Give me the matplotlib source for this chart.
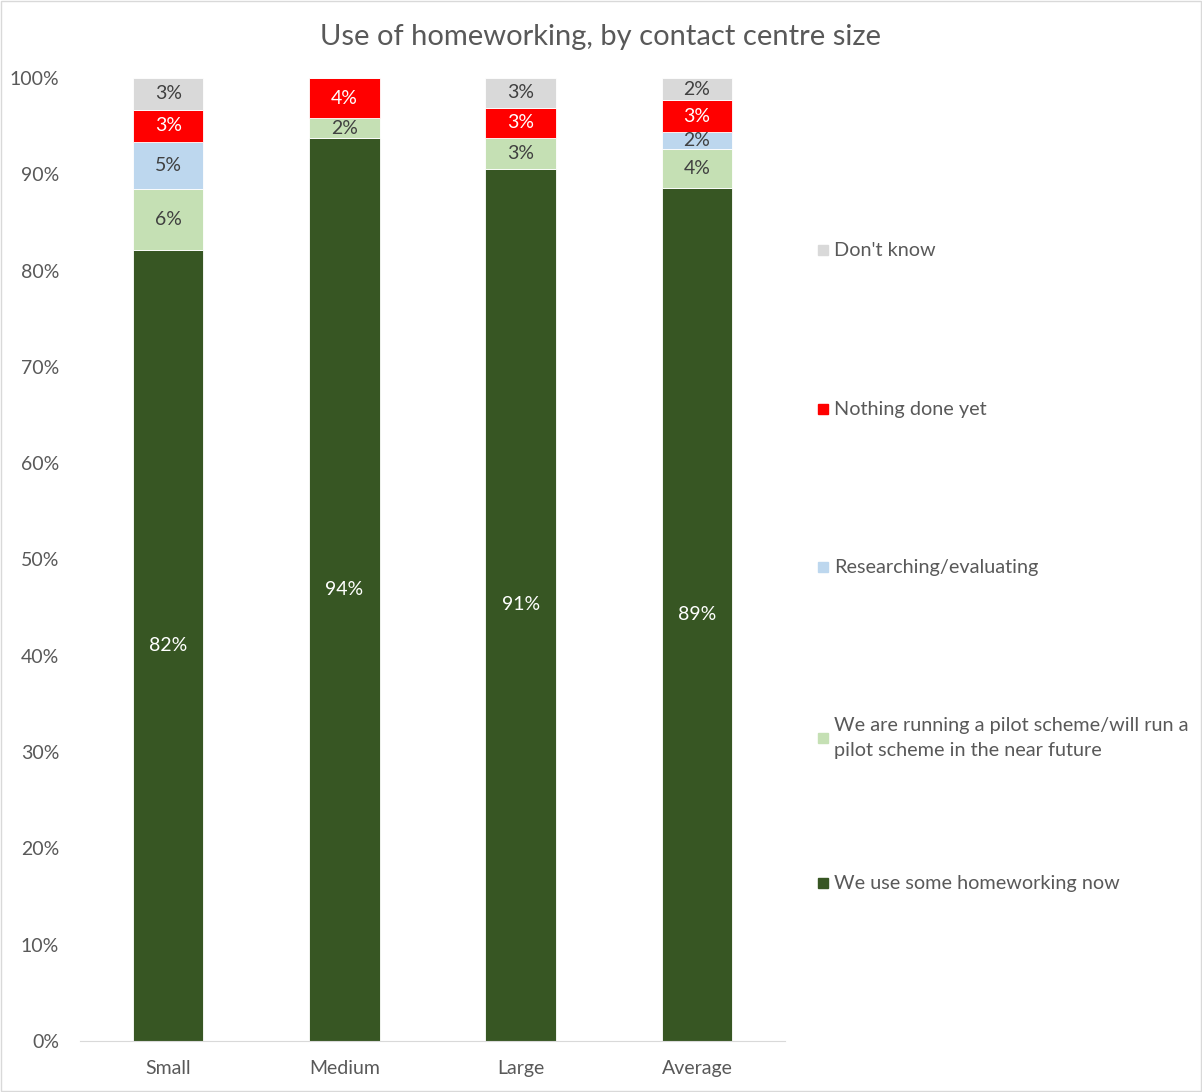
import numpy as np
import matplotlib.pyplot as plt
import matplotlib as mpl
from matplotlib.patches import Rectangle

mpl.rcParams['font.family'] = ['Lato', 'DejaVu Sans']

sizes = ['Small', 'Medium', 'Large', 'Average']
series = ['We use some homeworking now',
          'We are running a pilot scheme/will run a\npilot scheme in the near future',
          'Researching/evaluating',
          'Nothing done yet',
          "Don't know"]
use_now = [82.1, 93.8, 90.6, 88.6]
pilot = [6.4, 2.0, 3.2, 4.0]
research = [4.9, 0.0, 0.0, 1.8]
nothing = [3.3, 4.2, 3.1, 3.3]
dont_know = [3.3, 0.0, 3.1, 2.3]

colors = ['#375623', '#c5e0b4', '#bdd7ee', '#ff0000', '#d9d9d9']
label_colors = ['white', '#404040', '#404040', 'white', '#404040']
grey = '#595959'

fig = plt.figure(figsize=(12.02, 10.92), dpi=100)
ax = fig.add_axes([80/1202, 51/1092, 705/1202, 963/1092])

x = np.arange(len(sizes))
bottom = np.zeros(len(sizes))
for vals, c, lc in zip([use_now, pilot, research, nothing, dont_know], colors, label_colors):
    vals = np.array(vals)
    ax.bar(x, vals, width=0.4, bottom=bottom, color=c, edgecolor='white', linewidth=0.6)
    for xi, b, v in zip(x, bottom, vals):
        if v > 0:
            ax.text(xi, b + v / 2, f'{round(v)}%', ha='center', va='center',
                    fontsize=14, color=lc)
    bottom += vals

ax.set_xlim(-0.5, 3.5)
ax.set_ylim(0, 100)
ax.set_yticks(range(0, 101, 10))
ax.set_yticklabels([f'{t}%' for t in range(0, 101, 10)])
ax.set_xticks(x)
ax.set_xticklabels(sizes)
ax.tick_params(length=0, labelsize=14, colors=grey)
ax.tick_params(axis='y', pad=15)
ax.tick_params(axis='x', pad=14)
for s in ['top', 'right', 'left']:
    ax.spines[s].set_visible(False)
ax.spines['bottom'].set_color('#d9d9d9')

fig.text(601/1202, 1 - 37/1092, 'Use of homeworking, by contact centre size',
         ha='center', va='center', fontsize=21, color=grey)

# legend, top entry first
leg_y = [883, 738, 567, 409, 250]
for name, c, yy in zip(series, colors, leg_y):
    fig.patches.append(Rectangle((818/1202, 1 - (yy + 5)/1092), 10/1202, 10/1092,
                                 transform=fig.transFigure, color=c))
    fig.text(834/1202, 1 - yy/1092, name, ha='left', va='center', fontsize=14.3,
             color=grey, linespacing=1.6)

fig.patches.append(Rectangle((0.0005, 0.0005), 0.999, 0.999, transform=fig.transFigure,
                             fill=False, edgecolor='#d9d9d9', linewidth=1))

fig.savefig('out.png', dpi=100)
